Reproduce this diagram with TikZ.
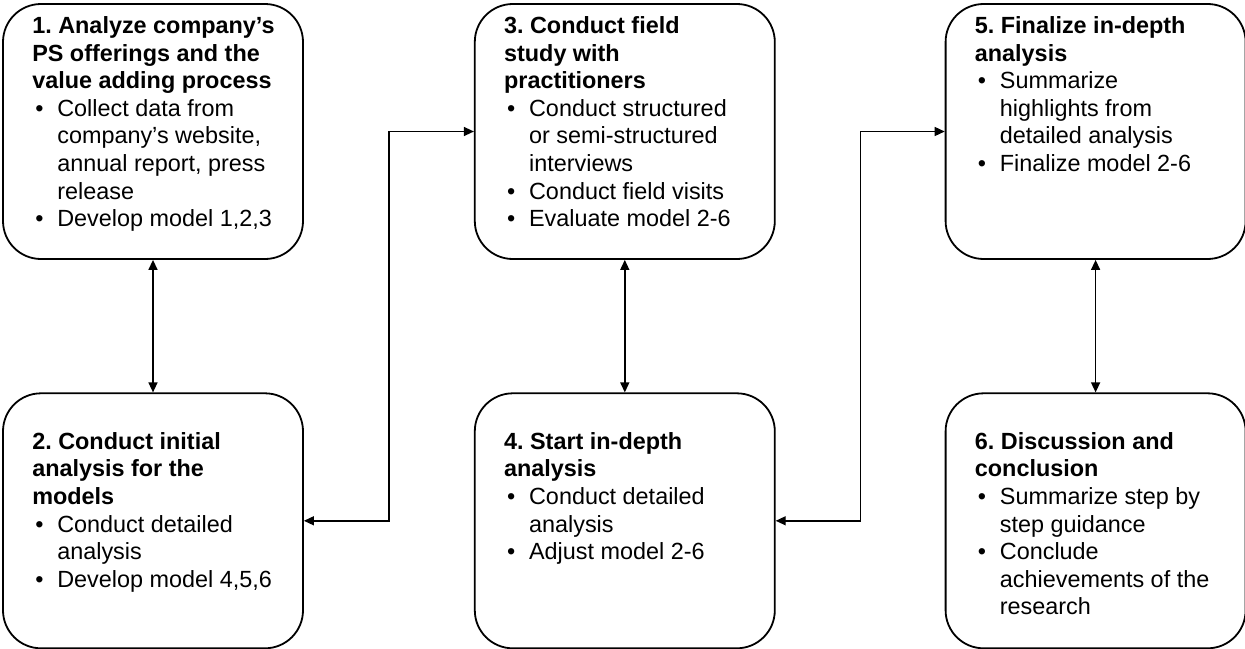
\documentclass[tikz,border=0pt]{standalone}
\usepackage{fontspec}
\setmainfont{Liberation Sans}
\usetikzlibrary{arrows.meta,calc,positioning}
\newcommand{\bul}{\makebox[25pt][l]{\hspace{3pt}\textbullet}}
\newcommand{\ind}{\hspace*{25pt}}
\frenchspacing

\begin{document}
\begin{tikzpicture}[x=1pt,y=-1pt,>={Triangle[length=10pt,width=9pt]},
	node distance=132.5pt and 170pt,
	stage/.style={draw,line width=1.8pt,rounded corners=38pt,minimum width=300pt,minimum height=255pt,inner sep=0pt},
	stagetext/.style={anchor=north west,align=left,inner sep=0pt,font=\fontsize{23.4}{27.6}\selectfont},
	link/.style={<->,line width=1.4pt}]
	\useasboundingbox (0,0) rectangle (1245,648);
	% the six stages
	\node[stage] (b1) at (153,131.5) {};
	\node[stage] [right=of b1] (b3) {};
	\node[stage] [right=169pt of b3] (b5) {};
	\node[stage] [below=of b1] (b2) {};
	\node[stage] [below=of b3] (b4) {};
	\node[stage] [below=of b5] (b6) {};
	% texts
	\node[stagetext] (t1) at ($(b1.north west)+(30,13.3)$) {\textbf{1. Analyze company’s}\\\textbf{PS offerings and the}\\\textbf{value adding process}\\
		\bul Collect data from\\\ind company’s website,\\\ind annual report, press\\\ind release\\\bul Develop model 1,2,3};
	\node[stagetext] (t2) at ($(b2.north west)+(30,39.8)$) {\textbf{2. Conduct initial}\\\textbf{analysis for the}\\\textbf{models}\\
		\bul Conduct detailed\\\ind analysis\\\bul Develop model 4,5,6};
	\node[stagetext] (t3) at ($(b3.north west)+(30,13.3)$) {\textbf{3. Conduct field}\\\textbf{study with}\\\textbf{practitioners}\\
		\bul Conduct structured\\\ind or semi-structured\\\ind interviews\\\bul Conduct field visits\\\bul Evaluate model 2-6};
	\node[stagetext] (t4) at ($(b4.north west)+(30,39.8)$) {\textbf{4. Start in-depth}\\\textbf{analysis}\\
		\bul Conduct detailed\\\ind analysis\\\bul Adjust model 2-6};
	\node[stagetext] (t5) at ($(b5.north west)+(30,13.3)$) {\textbf{5. Finalize in-depth}\\\textbf{analysis}\\
		\bul Summarize\\\ind highlights from\\\ind detailed analysis\\\bul Finalize model 2-6};
	\node[stagetext] (t6) at ($(b6.north west)+(30,39.8)$) {\textbf{6. Discussion and}\\\textbf{conclusion}\\
		\bul Summarize step by\\\ind step guidance\\\bul Conclude\\\ind achievements of the\\\ind research};
	% connectors
	\coordinate (m1) at ($(b2.east)!0.5!(b3.west)$);
	\coordinate (m2) at ($(b4.east)!0.5!(b5.west)$);
	\path[link]
		(b1) edge (b2)
		(b3) edge (b4)
		(b5) edge (b6);
	\draw[link] (b2.east) -| (m1) |- (b3.west);
	\draw[link] (b4.east) -| (m2) |- (b5.west);
\end{tikzpicture}
\end{document}
